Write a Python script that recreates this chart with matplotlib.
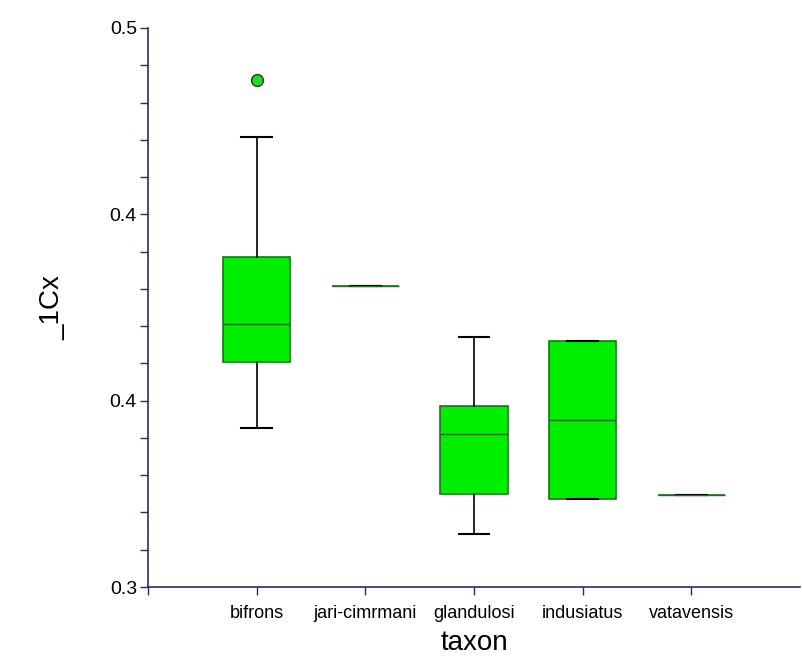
import matplotlib
matplotlib.use("Agg")
import matplotlib.pyplot as plt
import numpy as np
from matplotlib.ticker import FixedLocator, AutoMinorLocator, FuncFormatter

categories = ["bifrons", "jari-cimrmani", "glandulosi", "indusiatus", "vatavensis"]
whislo = [0.3569, 0.4077, 0.3190, 0.3315, 0.3329]
q1     = [0.3805, 0.4077, 0.3333, 0.3315, 0.3329]
med    = [0.3941, 0.4077, 0.3547, 0.3598, 0.3329]
q3     = [0.4181, 0.4077, 0.3648, 0.3880, 0.3329]
whishi = [0.4610, 0.4077, 0.3894, 0.3880, 0.3329]
fliers = [[0.4814], [], [], [], []]

plt.rcParams['font.family'] = ['Liberation Sans', 'DejaVu Sans']

fig = plt.figure(figsize=(8.03, 6.60), dpi=100)
ax = fig.add_axes([148/803, 73/660, (800-148)/803, (587-28)/660])

stats = []
for i, c in enumerate(categories):
    stats.append(dict(label=c, whislo=whislo[i], q1=q1[i], med=med[i],
                      q3=q3[i], whishi=whishi[i], fliers=fliers[i]))

pos = np.arange(len(categories))
ax.bxp(stats, positions=pos, widths=0.62, capwidths=0.28, patch_artist=True,
       boxprops=dict(facecolor='#00ee00', edgecolor='#1f6e1f', linewidth=1.2),
       medianprops=dict(color='#1f6e1f', linewidth=1.0),
       whiskerprops=dict(color='black', linewidth=1.2),
       capprops=dict(color='black', linewidth=1.5),
       flierprops=dict(marker='o', markerfacecolor='#22dd22', markeredgecolor='#1a3a1a',
                       markersize=8.5, markeredgewidth=1.0))

ax.set_xlim(-1, 5.0)
ax.set_ylim(0.3, 0.5)

ax.spines['top'].set_visible(False)
ax.spines['right'].set_visible(False)
axis_color = '#2c2c5c'
ax.spines['left'].set_color(axis_color)
ax.spines['bottom'].set_color(axis_color)
ax.spines['left'].set_linewidth(1.2)
ax.spines['bottom'].set_linewidth(1.2)

majors = np.linspace(0.3, 0.5, 4)
ax.yaxis.set_major_locator(FixedLocator(majors))
ax.yaxis.set_major_formatter(FuncFormatter(lambda v, p: f"{v:.1f}"))
ax.yaxis.set_minor_locator(AutoMinorLocator(5))
ax.tick_params(axis='y', which='both', length=6, width=1.0, color=axis_color,
               labelsize=14, pad=2)

ax.set_xticks(list(pos) + [-1])
ax.set_xticklabels(categories + [""], family=['Liberation Sans Narrow', 'Liberation Sans'])
ax.tick_params(axis='x', length=6, width=1.0, color=axis_color, labelsize=13, pad=7)

ax.set_xlabel("taxon", fontsize=20, labelpad=6)
ax.set_ylabel("_1Cx", fontsize=20, labelpad=32)

fig.savefig("out.png", dpi=100)
